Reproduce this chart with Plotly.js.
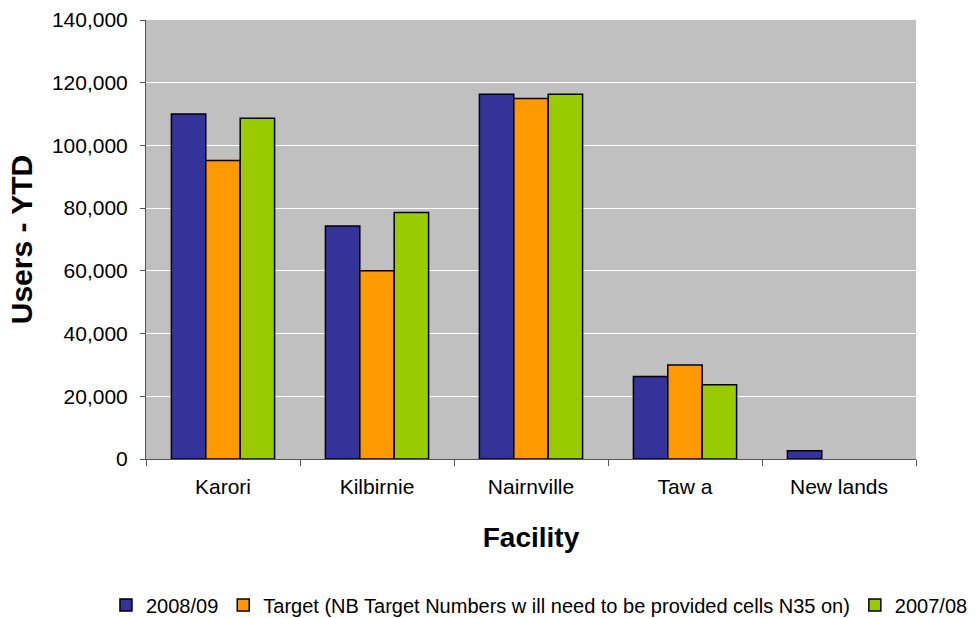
<!DOCTYPE html>
<html>
<head>
<meta charset="utf-8">
<script src="https://cdn.plot.ly/plotly-3.0.1.min.js"></script>
<style>html,body{margin:0;padding:0;background:#fff;}#chart{width:978px;height:618px;}</style>
</head>
<body>
<div id="chart"></div>
<script>
const facilities = ["Karori", "Kilbirnie", "Nairnville", "Taw a", "New lands"];
const users200809 = [110000, 74300, 116300, 26300, 2650];
const target = [95200, 60000, 115000, 30000, null];
const users200708 = [108700, 78600, 116300, 23700, null];
const seriesNames = ["2008/09", "Target (NB Target Numbers w ill need to be provided cells N35 on)", "2007/08"];
const yTicks = [0, 20000, 40000, 60000, 80000, 100000, 120000, 140000];

const FONT = "Arial, 'Liberation Sans', sans-serif";
const colors = ["#333399", "#FF9900", "#99CC00"];
const seriesValues = [users200809, target, users200708];

const data = seriesValues.map((vals, i) => ({
  type: "bar",
  x: facilities,
  y: vals,
  name: seriesNames[i],
  marker: {color: colors[i], line: {color: "#000000", width: 1.5}},
  hoverinfo: "skip"
}));

const layout = {
  width: 978,
  height: 618,
  margin: {l: 146, r: 62, t: 20, b: 159, autoexpand: false},
  paper_bgcolor: "#FFFFFF",
  plot_bgcolor: "#C0C0C0",
  font: {family: FONT, size: 21, color: "#000000"},
  barmode: "group",
  bargap: 0.33,
  bargroupgap: 0,
  showlegend: true,
  legend: {
    orientation: "h",
    x: -0.052, xanchor: "left",
    y: -0.3326, yanchor: "middle",
    font: {family: FONT, size: 20, color: "#000000"},
    itemclick: false, itemdoubleclick: false,
    tracegroupgap: 0
  },
  xaxis: {
    type: "category",
    tickson: "boundaries",
    ticks: "outside",
    ticklen: 6,
    tickcolor: "#555555",
    showline: true,
    linecolor: "#555555",
    linewidth: 1,
    showgrid: false,
    ticklabelstandoff: 9,
    tickfont: {family: FONT, size: 21, color: "#000000"},
    title: {text: "Facility", font: {family: FONT, size: 28, color: "#000000", weight: "bold"}, standoff: 30},
    fixedrange: true
  },
  yaxis: {
    range: [0, 140000],
    tickvals: yTicks,
    tickformat: ",d",
    ticks: "outside",
    ticklen: 5,
    tickcolor: "#555555",
    showline: true,
    linecolor: "#555555",
    linewidth: 1,
    showgrid: true,
    gridcolor: "#FFFFFF",
    gridwidth: 1,
    zeroline: false,
    ticklabelstandoff: 8,
    tickfont: {family: FONT, size: 21, color: "#000000"},
    title: {text: "Users - YTD", font: {family: FONT, size: 30, color: "#000000", weight: "bold"}, standoff: 10},
    fixedrange: true
  }
};

Plotly.newPlot("chart", data, layout, {displayModeBar: false, staticPlot: true});
</script>
</body>
</html>
